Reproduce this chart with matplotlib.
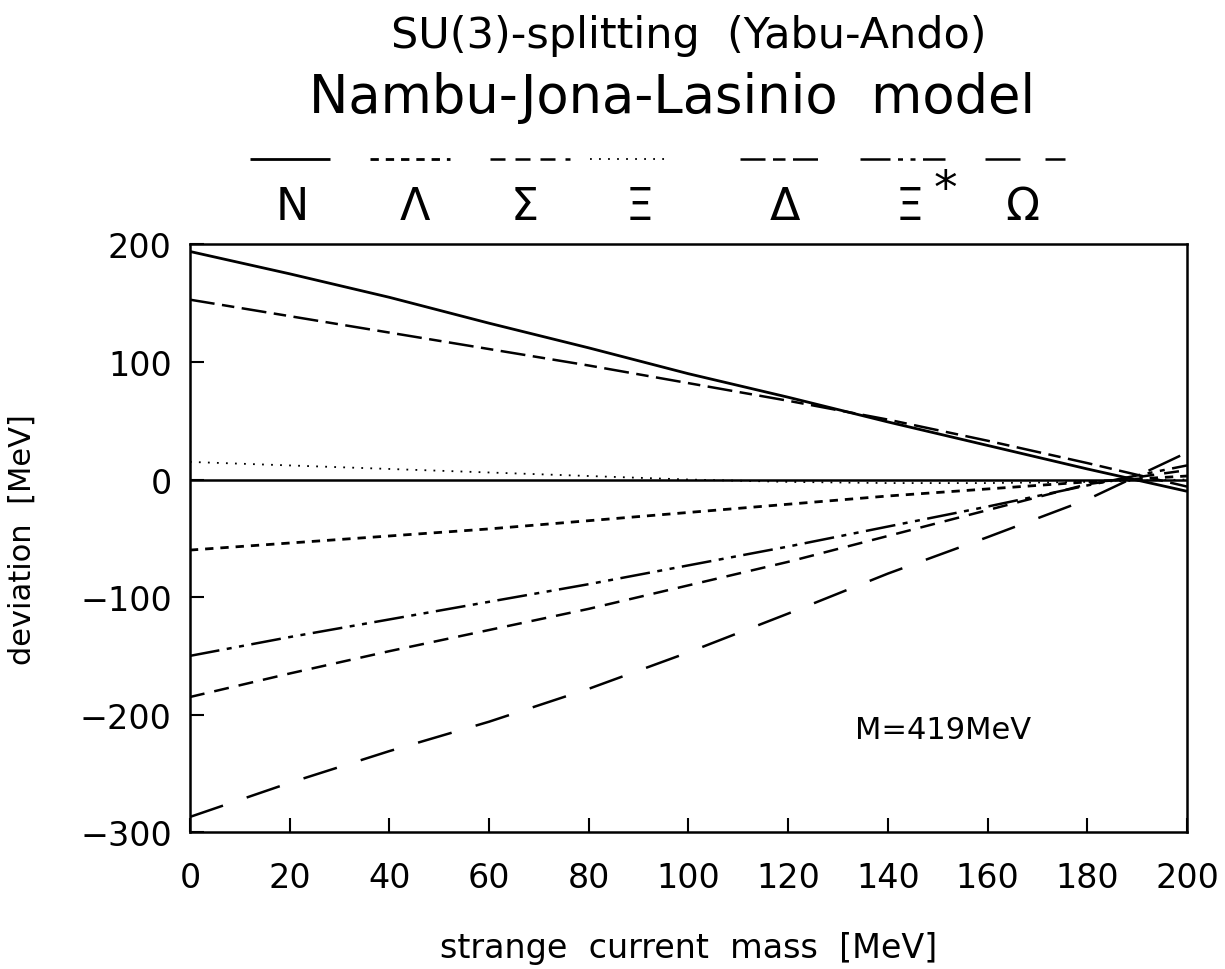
import matplotlib
matplotlib.use("Agg")
import matplotlib.pyplot as plt
from matplotlib.lines import Line2D

plt.rcParams['font.family'] = ['DejaVu Sans']

ms = [0, 20, 40, 60, 80, 100, 120, 140, 160, 180, 200]
dev_N     = [194, 175, 155, 133, 112, 90, 70, 49, 29, 9, -10]
dev_Lam   = [-60, -54, -48, -42, -35, -28, -21, -14, -8, -2, 3]
dev_Sig   = [-185, -165, -146, -128, -110, -90, -70, -48, -26, -4, 8]
dev_Xi    = [15, 12, 9, 6, 3, 0, -2, -3, -3, -2, 0]
dev_Del   = [153, 139, 125, 111, 97, 82, 67, 51, 33, 14, -6]
dev_XiS   = [-150, -134, -119, -104, -89, -73, -57, -40, -23, -5, 12]
dev_Om    = [-287, -258, -231, -206, -178, -147, -114, -80, -49, -17, 23]

labels = ["N", "Λ", "Σ", "Ξ", "Δ", "Ξ", "Ω"]
series = [dev_N, dev_Lam, dev_Sig, dev_Xi, dev_Del, dev_XiS, dev_Om]
styles = [
    ((0, ()), 2.0),
    ((0, (3, 2.5)), 2.0),
    ((0, (6, 4)), 1.8),
    ((0, (1, 4)), 1.3),
    ((0, (10, 3, 5, 3)), 1.8),
    ((0, (12, 3, 2, 3, 2, 3)), 1.8),
    ((0, (14, 10)), 1.8),
]

fig = plt.figure(figsize=(12.25, 9.7), dpi=100)
ax = fig.add_axes([0.155, 0.141, 0.814, 0.606])

ax.axhline(0, color='black', lw=1.8)
for y, (ls, lw) in zip(series, styles):
    ax.plot(ms, y, color='black', linestyle=ls, lw=lw)

ax.set_xlim(0, 200)
ax.set_ylim(-300, 200)
ax.set_xticks(range(0, 201, 20))
ax.set_yticks(range(-300, 201, 100))
ax.tick_params(direction='in', length=10, width=1.5, labelsize=24)
ax.tick_params(axis='x', pad=21)
ax.tick_params(axis='y', pad=13)
for s in ax.spines.values():
    s.set_linewidth(1.8)
ax.set_xlabel("strange  current  mass  [MeV]", fontsize=24, labelpad=26)
ax.set_ylabel("deviation  [MeV]", fontsize=22, labelpad=31)
ax.text(0.667, 0.175, "M=419MeV", transform=ax.transAxes, fontsize=22, va='center')

fig.text(0.562, 0.963, "SU(3)-splitting  (Yabu-Ando)", ha='center', va='center', fontsize=31)
fig.text(0.549, 0.899, "Nambu-Jona-Lasinio  model", ha='center', va='center', fontsize=38)

leg_x = [(250, 330), (370, 450), (490, 570), (590, 670), (740, 820), (860, 945), (985, 1065)]
lab_x = [292, 415, 525, 640, 785, 910, 1022]
W, H = 1225.0, 970.0
for (x0, x1), lx, lab, (ls, lw) in zip(leg_x, lab_x, labels, styles):
    fig.add_artist(Line2D([x0 / W, x1 / W], [1 - 160 / H, 1 - 160 / H],
                          color='black', linestyle=ls, lw=lw))
    fig.text(lx / W, 1 - 207 / H, lab, ha='center', va='center', fontsize=32)
fig.text(945 / W, 1 - 190 / H, "*", ha='center', va='center', fontsize=34)

fig.savefig("out.png", dpi=100)
